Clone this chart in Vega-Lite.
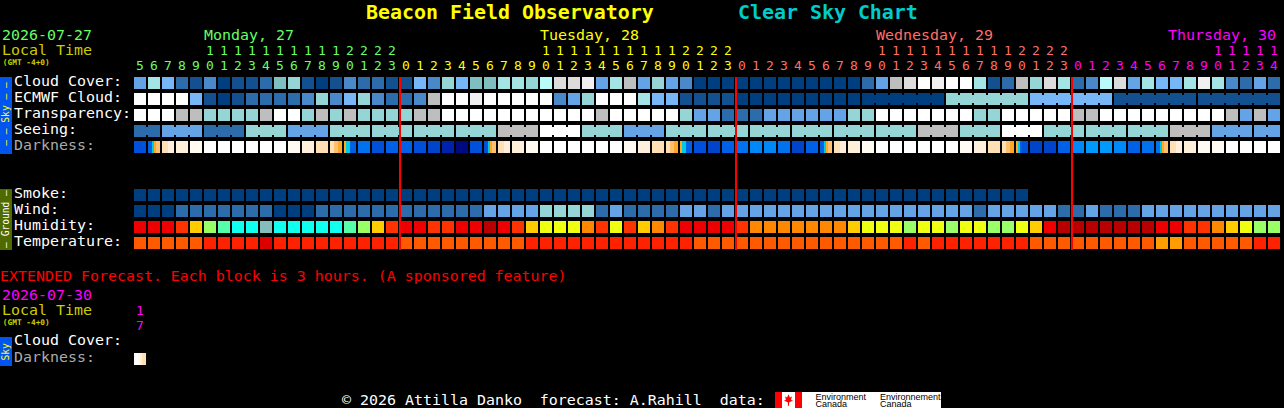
{"$schema":"https://vega.github.io/schema/vega-lite/v6.json","width":1284,"height":408,"padding":0,"autosize":{"type":"none"},"background":"#000000","config":{"view":{"stroke":null}},
"datasets":{
"cells":[
{"col":0,"row":0,"lv":"b4"},{"col":1,"row":0,"lv":"t1"},{"col":2,"row":0,"lv":"b5"},{"col":3,"row":0,"lv":"b2"},{"col":4,"row":0,"lv":"b1"},{"col":5,"row":0,"lv":"b3"},{"col":6,"row":0,"lv":"b0"},{"col":7,"row":0,"lv":"b1"},{"col":8,"row":0,"lv":"b1"},{"col":9,"row":0,"lv":"b2"},{"col":10,"row":0,"lv":"tD"},{"col":11,"row":0,"lv":"t0"},{"col":12,"row":0,"lv":"b1"},{"col":13,"row":0,"lv":"b0"},{"col":14,"row":0,"lv":"b1"},{"col":15,"row":0,"lv":"b3"},{"col":16,"row":0,"lv":"b2"},{"col":17,"row":0,"lv":"b2"},{"col":18,"row":0,"lv":"b1"},{"col":19,"row":0,"lv":"b1"},{"col":20,"row":0,"lv":"b5"},{"col":21,"row":0,"lv":"b3"},{"col":22,"row":0,"lv":"t0"},{"col":23,"row":0,"lv":"b5"},{"col":24,"row":0,"lv":"tD"},{"col":25,"row":0,"lv":"tD"},{"col":26,"row":0,"lv":"t1"},{"col":27,"row":0,"lv":"t1"},{"col":28,"row":0,"lv":"t0"},{"col":29,"row":0,"lv":"t2"},{"col":30,"row":0,"lv":"g1"},{"col":31,"row":0,"lv":"g1"},{"col":32,"row":0,"lv":"g2"},{"col":33,"row":0,"lv":"b4"},{"col":34,"row":0,"lv":"t1"},{"col":35,"row":0,"lv":"g0"},{"col":36,"row":0,"lv":"b4"},{"col":37,"row":0,"lv":"t0"},{"col":38,"row":0,"lv":"b4"},{"col":39,"row":0,"lv":"b3"},{"col":40,"row":0,"lv":"b0"},{"col":41,"row":0,"lv":"b0"},{"col":42,"row":0,"lv":"b0"},{"col":43,"row":0,"lv":"b0"},{"col":44,"row":0,"lv":"b0"},{"col":45,"row":0,"lv":"b0"},{"col":46,"row":0,"lv":"b0"},{"col":47,"row":0,"lv":"b0"},{"col":48,"row":0,"lv":"b0"},{"col":49,"row":0,"lv":"b0"},{"col":50,"row":0,"lv":"b0"},{"col":51,"row":0,"lv":"b0"},{"col":52,"row":0,"lv":"b2"},{"col":53,"row":0,"lv":"b4"},{"col":54,"row":0,"lv":"g0"},{"col":55,"row":0,"lv":"g1"},{"col":56,"row":0,"lv":"w"},{"col":57,"row":0,"lv":"g2"},{"col":58,"row":0,"lv":"w"},{"col":59,"row":0,"lv":"w"},{"col":60,"row":0,"lv":"t1"},{"col":61,"row":0,"lv":"b1"},{"col":62,"row":0,"lv":"b2"},{"col":63,"row":0,"lv":"g0"},{"col":64,"row":0,"lv":"t0"},{"col":65,"row":0,"lv":"g1"},{"col":66,"row":0,"lv":"t1"},{"col":67,"row":0,"lv":"b2"},{"col":68,"row":0,"lv":"b3"},{"col":69,"row":0,"lv":"t2"},{"col":70,"row":0,"lv":"g1"},{"col":71,"row":0,"lv":"b4"},{"col":72,"row":0,"lv":"t1"},{"col":73,"row":0,"lv":"b5"},{"col":74,"row":0,"lv":"b5"},{"col":75,"row":0,"lv":"t1"},{"col":76,"row":0,"lv":"g2"},{"col":77,"row":0,"lv":"t1"},{"col":78,"row":0,"lv":"b3"},{"col":79,"row":0,"lv":"b2"},{"col":80,"row":0,"lv":"b4"},{"col":81,"row":0,"lv":"b2"},
{"col":0,"row":1,"lv":"w"},{"col":1,"row":1,"lv":"w"},{"col":2,"row":1,"lv":"w"},{"col":3,"row":1,"lv":"w"},{"col":4,"row":1,"lv":"b5"},{"col":5,"row":1,"lv":"b1"},{"col":6,"row":1,"lv":"b0"},{"col":7,"row":1,"lv":"b1"},{"col":8,"row":1,"lv":"b2"},{"col":9,"row":1,"lv":"b2"},{"col":10,"row":1,"lv":"b2"},{"col":11,"row":1,"lv":"b2"},{"col":12,"row":1,"lv":"b3"},{"col":13,"row":1,"lv":"t0"},{"col":14,"row":1,"lv":"b3"},{"col":15,"row":1,"lv":"b5"},{"col":16,"row":1,"lv":"t0"},{"col":17,"row":1,"lv":"b3"},{"col":18,"row":1,"lv":"b2"},{"col":19,"row":1,"lv":"b2"},{"col":20,"row":1,"lv":"b3"},{"col":21,"row":1,"lv":"g0"},{"col":22,"row":1,"lv":"w"},{"col":23,"row":1,"lv":"w"},{"col":24,"row":1,"lv":"g2"},{"col":25,"row":1,"lv":"w"},{"col":26,"row":1,"lv":"w"},{"col":27,"row":1,"lv":"w"},{"col":28,"row":1,"lv":"w"},{"col":29,"row":1,"lv":"w"},{"col":30,"row":1,"lv":"b3"},{"col":31,"row":1,"lv":"b4"},{"col":32,"row":1,"lv":"t0"},{"col":33,"row":1,"lv":"w"},{"col":34,"row":1,"lv":"w"},{"col":35,"row":1,"lv":"w"},{"col":36,"row":1,"lv":"t1"},{"col":37,"row":1,"lv":"b5"},{"col":38,"row":1,"lv":"b5"},{"col":39,"row":1,"lv":"b1"},{"col":40,"row":1,"lv":"b1"},{"col":41,"row":1,"lv":"b1"},{"col":42,"row":1,"lv":"b1"},{"col":43,"row":1,"lv":"b0"},{"col":44,"row":1,"lv":"b0"},{"col":45,"row":1,"lv":"b0"},{"col":46,"row":1,"lv":"b0"},{"col":47,"row":1,"lv":"b0"},{"col":48,"row":1,"lv":"b0"},{"col":49,"row":1,"lv":"b0"},{"col":50,"row":1,"lv":"b0"},{"col":51,"row":1,"lv":"b0"},{"col":52,"row":1,"lv":"b0"},{"col":53,"row":1,"lv":"b0"},{"col":54,"row":1,"lv":"b0"},{"col":55,"row":1,"lv":"b0"},{"col":56,"row":1,"lv":"b0"},{"col":57,"row":1,"lv":"b0"},{"col":58,"row":1,"lv":"t0"},{"col":59,"row":1,"lv":"t0"},{"col":60,"row":1,"lv":"t0"},{"col":61,"row":1,"lv":"t0"},{"col":62,"row":1,"lv":"t0"},{"col":63,"row":1,"lv":"t0"},{"col":64,"row":1,"lv":"b5"},{"col":65,"row":1,"lv":"b5"},{"col":66,"row":1,"lv":"b5"},{"col":67,"row":1,"lv":"b5"},{"col":68,"row":1,"lv":"b5"},{"col":69,"row":1,"lv":"b5"},{"col":70,"row":1,"lv":"b1"},{"col":71,"row":1,"lv":"b1"},{"col":72,"row":1,"lv":"b1"},{"col":73,"row":1,"lv":"b1"},{"col":74,"row":1,"lv":"b1"},{"col":75,"row":1,"lv":"b1"},{"col":76,"row":1,"lv":"b1"},{"col":77,"row":1,"lv":"b1"},{"col":78,"row":1,"lv":"b1"},{"col":79,"row":1,"lv":"b1"},{"col":80,"row":1,"lv":"b1"},{"col":81,"row":1,"lv":"b1"},
{"col":0,"row":2,"lv":"w"},{"col":1,"row":2,"lv":"w"},{"col":2,"row":2,"lv":"w"},{"col":3,"row":2,"lv":"g0"},{"col":4,"row":2,"lv":"g0"},{"col":5,"row":2,"lv":"t0"},{"col":6,"row":2,"lv":"t0"},{"col":7,"row":2,"lv":"t0"},{"col":8,"row":2,"lv":"t0"},{"col":9,"row":2,"lv":"g0"},{"col":10,"row":2,"lv":"w"},{"col":11,"row":2,"lv":"w"},{"col":12,"row":2,"lv":"t0"},{"col":13,"row":2,"lv":"g0"},{"col":14,"row":2,"lv":"t0"},{"col":15,"row":2,"lv":"g0"},{"col":16,"row":2,"lv":"t0"},{"col":17,"row":2,"lv":"t0"},{"col":18,"row":2,"lv":"t0"},{"col":19,"row":2,"lv":"t0"},{"col":20,"row":2,"lv":"g0"},{"col":21,"row":2,"lv":"g0"},{"col":22,"row":2,"lv":"w"},{"col":23,"row":2,"lv":"w"},{"col":24,"row":2,"lv":"w"},{"col":25,"row":2,"lv":"w"},{"col":26,"row":2,"lv":"w"},{"col":27,"row":2,"lv":"w"},{"col":28,"row":2,"lv":"w"},{"col":29,"row":2,"lv":"w"},{"col":30,"row":2,"lv":"w"},{"col":31,"row":2,"lv":"w"},{"col":32,"row":2,"lv":"w"},{"col":33,"row":2,"lv":"g0"},{"col":34,"row":2,"lv":"w"},{"col":35,"row":2,"lv":"w"},{"col":36,"row":2,"lv":"w"},{"col":37,"row":2,"lv":"w"},{"col":38,"row":2,"lv":"w"},{"col":39,"row":2,"lv":"t0"},{"col":40,"row":2,"lv":"b4"},{"col":41,"row":2,"lv":"b4"},{"col":42,"row":2,"lv":"b2"},{"col":43,"row":2,"lv":"b2"},{"col":44,"row":2,"lv":"b2"},{"col":45,"row":2,"lv":"b4"},{"col":46,"row":2,"lv":"b4"},{"col":47,"row":2,"lv":"b4"},{"col":48,"row":2,"lv":"b4"},{"col":49,"row":2,"lv":"b4"},{"col":50,"row":2,"lv":"b4"},{"col":51,"row":2,"lv":"t0"},{"col":52,"row":2,"lv":"t0"},{"col":53,"row":2,"lv":"w"},{"col":54,"row":2,"lv":"w"},{"col":55,"row":2,"lv":"w"},{"col":56,"row":2,"lv":"w"},{"col":57,"row":2,"lv":"w"},{"col":58,"row":2,"lv":"w"},{"col":59,"row":2,"lv":"w"},{"col":60,"row":2,"lv":"t0"},{"col":61,"row":2,"lv":"t0"},{"col":62,"row":2,"lv":"w"},{"col":63,"row":2,"lv":"w"},{"col":64,"row":2,"lv":"w"},{"col":65,"row":2,"lv":"w"},{"col":66,"row":2,"lv":"w"},{"col":67,"row":2,"lv":"g0"},{"col":68,"row":2,"lv":"g0"},{"col":69,"row":2,"lv":"w"},{"col":70,"row":2,"lv":"w"},{"col":71,"row":2,"lv":"w"},{"col":72,"row":2,"lv":"w"},{"col":73,"row":2,"lv":"w"},{"col":74,"row":2,"lv":"w"},{"col":75,"row":2,"lv":"w"},{"col":76,"row":2,"lv":"w"},{"col":77,"row":2,"lv":"w"},{"col":78,"row":2,"lv":"g0"},{"col":79,"row":2,"lv":"b4"},{"col":80,"row":2,"lv":"g0"},{"col":81,"row":2,"lv":"b4"},
{"col":0,"row":3,"lv":"b2"},{"col":1,"row":3,"lv":"b2"},{"col":2,"row":3,"lv":"b4"},{"col":3,"row":3,"lv":"b4"},{"col":4,"row":3,"lv":"b4"},{"col":5,"row":3,"lv":"b2"},{"col":6,"row":3,"lv":"b2"},{"col":7,"row":3,"lv":"b2"},{"col":8,"row":3,"lv":"t0"},{"col":9,"row":3,"lv":"t0"},{"col":10,"row":3,"lv":"t0"},{"col":11,"row":3,"lv":"b4"},{"col":12,"row":3,"lv":"b4"},{"col":13,"row":3,"lv":"b4"},{"col":14,"row":3,"lv":"t0"},{"col":15,"row":3,"lv":"t0"},{"col":16,"row":3,"lv":"t0"},{"col":17,"row":3,"lv":"t0"},{"col":18,"row":3,"lv":"t0"},{"col":19,"row":3,"lv":"t0"},{"col":20,"row":3,"lv":"t0"},{"col":21,"row":3,"lv":"t0"},{"col":22,"row":3,"lv":"t0"},{"col":23,"row":3,"lv":"t0"},{"col":24,"row":3,"lv":"t0"},{"col":25,"row":3,"lv":"t0"},{"col":26,"row":3,"lv":"g0"},{"col":27,"row":3,"lv":"g0"},{"col":28,"row":3,"lv":"g0"},{"col":29,"row":3,"lv":"w"},{"col":30,"row":3,"lv":"w"},{"col":31,"row":3,"lv":"w"},{"col":32,"row":3,"lv":"t0"},{"col":33,"row":3,"lv":"t0"},{"col":34,"row":3,"lv":"t0"},{"col":35,"row":3,"lv":"b4"},{"col":36,"row":3,"lv":"b4"},{"col":37,"row":3,"lv":"b4"},{"col":38,"row":3,"lv":"t0"},{"col":39,"row":3,"lv":"t0"},{"col":40,"row":3,"lv":"t0"},{"col":41,"row":3,"lv":"t0"},{"col":42,"row":3,"lv":"t0"},{"col":43,"row":3,"lv":"t0"},{"col":44,"row":3,"lv":"t0"},{"col":45,"row":3,"lv":"t0"},{"col":46,"row":3,"lv":"t0"},{"col":47,"row":3,"lv":"t0"},{"col":48,"row":3,"lv":"t0"},{"col":49,"row":3,"lv":"t0"},{"col":50,"row":3,"lv":"t0"},{"col":51,"row":3,"lv":"t0"},{"col":52,"row":3,"lv":"t0"},{"col":53,"row":3,"lv":"t0"},{"col":54,"row":3,"lv":"t0"},{"col":55,"row":3,"lv":"t0"},{"col":56,"row":3,"lv":"g0"},{"col":57,"row":3,"lv":"g0"},{"col":58,"row":3,"lv":"g0"},{"col":59,"row":3,"lv":"t0"},{"col":60,"row":3,"lv":"t0"},{"col":61,"row":3,"lv":"t0"},{"col":62,"row":3,"lv":"w"},{"col":63,"row":3,"lv":"w"},{"col":64,"row":3,"lv":"w"},{"col":65,"row":3,"lv":"t0"},{"col":66,"row":3,"lv":"t0"},{"col":67,"row":3,"lv":"t0"},{"col":68,"row":3,"lv":"t0"},{"col":69,"row":3,"lv":"t0"},{"col":70,"row":3,"lv":"t0"},{"col":71,"row":3,"lv":"t0"},{"col":72,"row":3,"lv":"t0"},{"col":73,"row":3,"lv":"t0"},{"col":74,"row":3,"lv":"g0"},{"col":75,"row":3,"lv":"g0"},{"col":76,"row":3,"lv":"g0"},{"col":77,"row":3,"lv":"b4"},{"col":78,"row":3,"lv":"b4"},{"col":79,"row":3,"lv":"b4"},{"col":80,"row":3,"lv":"b4"},{"col":81,"row":3,"lv":"b4"},
{"col":0,"row":4,"lv":"n3"},{"col":3,"row":4,"lv":"o4"},{"col":4,"row":4,"lv":"o5"},{"col":5,"row":4,"lv":"w"},{"col":6,"row":4,"lv":"w"},{"col":7,"row":4,"lv":"w"},{"col":8,"row":4,"lv":"w"},{"col":9,"row":4,"lv":"w"},{"col":10,"row":4,"lv":"w"},{"col":11,"row":4,"lv":"o5"},{"col":12,"row":4,"lv":"o4"},{"col":13,"row":4,"lv":"o3"},{"col":16,"row":4,"lv":"n5"},{"col":17,"row":4,"lv":"n3"},{"col":18,"row":4,"lv":"n4"},{"col":19,"row":4,"lv":"n4"},{"col":20,"row":4,"lv":"n3"},{"col":21,"row":4,"lv":"n2"},{"col":22,"row":4,"lv":"n1"},{"col":23,"row":4,"lv":"n0"},{"col":24,"row":4,"lv":"n3"},{"col":27,"row":4,"lv":"o4"},{"col":28,"row":4,"lv":"o5"},{"col":29,"row":4,"lv":"w"},{"col":30,"row":4,"lv":"w"},{"col":31,"row":4,"lv":"w"},{"col":32,"row":4,"lv":"w"},{"col":33,"row":4,"lv":"w"},{"col":34,"row":4,"lv":"w"},{"col":35,"row":4,"lv":"o5"},{"col":36,"row":4,"lv":"o4"},{"col":37,"row":4,"lv":"o3"},{"col":40,"row":4,"lv":"n3"},{"col":41,"row":4,"lv":"n2"},{"col":42,"row":4,"lv":"n4"},{"col":43,"row":4,"lv":"n5"},{"col":44,"row":4,"lv":"n6"},{"col":45,"row":4,"lv":"n6"},{"col":46,"row":4,"lv":"n5"},{"col":47,"row":4,"lv":"n2"},{"col":48,"row":4,"lv":"n4"},{"col":51,"row":4,"lv":"o4"},{"col":52,"row":4,"lv":"o5"},{"col":53,"row":4,"lv":"w"},{"col":54,"row":4,"lv":"w"},{"col":55,"row":4,"lv":"w"},{"col":56,"row":4,"lv":"w"},{"col":57,"row":4,"lv":"w"},{"col":58,"row":4,"lv":"w"},{"col":59,"row":4,"lv":"o5"},{"col":60,"row":4,"lv":"o4"},{"col":61,"row":4,"lv":"o3"},{"col":64,"row":4,"lv":"n2"},{"col":65,"row":4,"lv":"n2"},{"col":66,"row":4,"lv":"n4"},{"col":67,"row":4,"lv":"n6"},{"col":68,"row":4,"lv":"n7"},{"col":69,"row":4,"lv":"n7"},{"col":70,"row":4,"lv":"n6"},{"col":71,"row":4,"lv":"n4"},{"col":72,"row":4,"lv":"n5"},{"col":75,"row":4,"lv":"o4"},{"col":76,"row":4,"lv":"o5"},{"col":77,"row":4,"lv":"o5"},{"col":78,"row":4,"lv":"w"},{"col":79,"row":4,"lv":"w"},{"col":80,"row":4,"lv":"w"},{"col":81,"row":4,"lv":"w"},
{"col":0,"row":7,"lv":"b0"},{"col":1,"row":7,"lv":"b0"},{"col":2,"row":7,"lv":"b0"},{"col":3,"row":7,"lv":"b0"},{"col":4,"row":7,"lv":"b0"},{"col":5,"row":7,"lv":"b0"},{"col":6,"row":7,"lv":"b0"},{"col":7,"row":7,"lv":"b0"},{"col":8,"row":7,"lv":"b0"},{"col":9,"row":7,"lv":"b0"},{"col":10,"row":7,"lv":"b0"},{"col":11,"row":7,"lv":"b0"},{"col":12,"row":7,"lv":"b0"},{"col":13,"row":7,"lv":"b0"},{"col":14,"row":7,"lv":"b0"},{"col":15,"row":7,"lv":"b0"},{"col":16,"row":7,"lv":"b0"},{"col":17,"row":7,"lv":"b0"},{"col":18,"row":7,"lv":"b0"},{"col":19,"row":7,"lv":"b0"},{"col":20,"row":7,"lv":"b0"},{"col":21,"row":7,"lv":"b0"},{"col":22,"row":7,"lv":"b0"},{"col":23,"row":7,"lv":"b0"},{"col":24,"row":7,"lv":"b0"},{"col":25,"row":7,"lv":"b0"},{"col":26,"row":7,"lv":"b0"},{"col":27,"row":7,"lv":"b0"},{"col":28,"row":7,"lv":"b0"},{"col":29,"row":7,"lv":"b0"},{"col":30,"row":7,"lv":"b0"},{"col":31,"row":7,"lv":"b0"},{"col":32,"row":7,"lv":"b0"},{"col":33,"row":7,"lv":"b0"},{"col":34,"row":7,"lv":"b0"},{"col":35,"row":7,"lv":"b0"},{"col":36,"row":7,"lv":"b0"},{"col":37,"row":7,"lv":"b0"},{"col":38,"row":7,"lv":"b0"},{"col":39,"row":7,"lv":"b0"},{"col":40,"row":7,"lv":"b0"},{"col":41,"row":7,"lv":"b0"},{"col":42,"row":7,"lv":"b0"},{"col":43,"row":7,"lv":"b0"},{"col":44,"row":7,"lv":"b0"},{"col":45,"row":7,"lv":"b0"},{"col":46,"row":7,"lv":"b0"},{"col":47,"row":7,"lv":"b0"},{"col":48,"row":7,"lv":"b0"},{"col":49,"row":7,"lv":"b0"},{"col":50,"row":7,"lv":"b0"},{"col":51,"row":7,"lv":"b0"},{"col":52,"row":7,"lv":"b0"},{"col":53,"row":7,"lv":"b0"},{"col":54,"row":7,"lv":"b0"},{"col":55,"row":7,"lv":"b0"},{"col":56,"row":7,"lv":"b0"},{"col":57,"row":7,"lv":"b0"},{"col":58,"row":7,"lv":"b0"},{"col":59,"row":7,"lv":"b0"},{"col":60,"row":7,"lv":"b0"},{"col":61,"row":7,"lv":"b0"},{"col":62,"row":7,"lv":"b0"},{"col":63,"row":7,"lv":"b0"},
{"col":0,"row":8,"lv":"b0"},{"col":1,"row":8,"lv":"b0"},{"col":2,"row":8,"lv":"b0"},{"col":3,"row":8,"lv":"b2"},{"col":4,"row":8,"lv":"b2"},{"col":5,"row":8,"lv":"b2"},{"col":6,"row":8,"lv":"b2"},{"col":7,"row":8,"lv":"b2"},{"col":8,"row":8,"lv":"b2"},{"col":9,"row":8,"lv":"b2"},{"col":10,"row":8,"lv":"b0"},{"col":11,"row":8,"lv":"b0"},{"col":12,"row":8,"lv":"b0"},{"col":13,"row":8,"lv":"b2"},{"col":14,"row":8,"lv":"b2"},{"col":15,"row":8,"lv":"b2"},{"col":16,"row":8,"lv":"b2"},{"col":17,"row":8,"lv":"b2"},{"col":18,"row":8,"lv":"b2"},{"col":19,"row":8,"lv":"b2"},{"col":20,"row":8,"lv":"b2"},{"col":21,"row":8,"lv":"b2"},{"col":22,"row":8,"lv":"b2"},{"col":23,"row":8,"lv":"b2"},{"col":24,"row":8,"lv":"b2"},{"col":25,"row":8,"lv":"b4"},{"col":26,"row":8,"lv":"b4"},{"col":27,"row":8,"lv":"b4"},{"col":28,"row":8,"lv":"b4"},{"col":29,"row":8,"lv":"t0"},{"col":30,"row":8,"lv":"t0"},{"col":31,"row":8,"lv":"t0"},{"col":32,"row":8,"lv":"t0"},{"col":33,"row":8,"lv":"b2"},{"col":34,"row":8,"lv":"b4"},{"col":35,"row":8,"lv":"b2"},{"col":36,"row":8,"lv":"b2"},{"col":37,"row":8,"lv":"b2"},{"col":38,"row":8,"lv":"b2"},{"col":39,"row":8,"lv":"b4"},{"col":40,"row":8,"lv":"b4"},{"col":41,"row":8,"lv":"b2"},{"col":42,"row":8,"lv":"b4"},{"col":43,"row":8,"lv":"b4"},{"col":44,"row":8,"lv":"b4"},{"col":45,"row":8,"lv":"b4"},{"col":46,"row":8,"lv":"b4"},{"col":47,"row":8,"lv":"b4"},{"col":48,"row":8,"lv":"b4"},{"col":49,"row":8,"lv":"b4"},{"col":50,"row":8,"lv":"b4"},{"col":51,"row":8,"lv":"b4"},{"col":52,"row":8,"lv":"b4"},{"col":53,"row":8,"lv":"b4"},{"col":54,"row":8,"lv":"b4"},{"col":55,"row":8,"lv":"b4"},{"col":56,"row":8,"lv":"b4"},{"col":57,"row":8,"lv":"b4"},{"col":58,"row":8,"lv":"b4"},{"col":59,"row":8,"lv":"b4"},{"col":60,"row":8,"lv":"b2"},{"col":61,"row":8,"lv":"b4"},{"col":62,"row":8,"lv":"b4"},{"col":63,"row":8,"lv":"b4"},{"col":64,"row":8,"lv":"b4"},{"col":65,"row":8,"lv":"b4"},{"col":66,"row":8,"lv":"b2"},{"col":67,"row":8,"lv":"b2"},{"col":68,"row":8,"lv":"b4"},{"col":69,"row":8,"lv":"b2"},{"col":70,"row":8,"lv":"b2"},{"col":71,"row":8,"lv":"b2"},{"col":72,"row":8,"lv":"b4"},{"col":73,"row":8,"lv":"b4"},{"col":74,"row":8,"lv":"b4"},{"col":75,"row":8,"lv":"b4"},{"col":76,"row":8,"lv":"b4"},{"col":77,"row":8,"lv":"b4"},{"col":78,"row":8,"lv":"b4"},{"col":79,"row":8,"lv":"b4"},{"col":80,"row":8,"lv":"b4"},{"col":81,"row":8,"lv":"b4"},
{"col":0,"row":9,"lv":"hR"},{"col":1,"row":9,"lv":"hR"},{"col":2,"row":9,"lv":"hR"},{"col":3,"row":9,"lv":"hO"},{"col":4,"row":9,"lv":"hY"},{"col":5,"row":9,"lv":"hG"},{"col":6,"row":9,"lv":"hM"},{"col":7,"row":9,"lv":"hC"},{"col":8,"row":9,"lv":"hC"},{"col":9,"row":9,"lv":"hT"},{"col":10,"row":9,"lv":"hC"},{"col":11,"row":9,"lv":"hC"},{"col":12,"row":9,"lv":"hC"},{"col":13,"row":9,"lv":"hC"},{"col":14,"row":9,"lv":"hC"},{"col":15,"row":9,"lv":"hM"},{"col":16,"row":9,"lv":"hG"},{"col":17,"row":9,"lv":"hY"},{"col":18,"row":9,"lv":"hO"},{"col":19,"row":9,"lv":"hR"},{"col":20,"row":9,"lv":"hR"},{"col":21,"row":9,"lv":"hO"},{"col":22,"row":9,"lv":"hO"},{"col":23,"row":9,"lv":"hR"},{"col":24,"row":9,"lv":"hR"},{"col":25,"row":9,"lv":"hD"},{"col":26,"row":9,"lv":"hR"},{"col":27,"row":9,"lv":"hO"},{"col":28,"row":9,"lv":"hY"},{"col":29,"row":9,"lv":"hL"},{"col":30,"row":9,"lv":"hL"},{"col":31,"row":9,"lv":"hL"},{"col":32,"row":9,"lv":"hA"},{"col":33,"row":9,"lv":"hO"},{"col":34,"row":9,"lv":"hL"},{"col":35,"row":9,"lv":"hO"},{"col":36,"row":9,"lv":"hY"},{"col":37,"row":9,"lv":"hA"},{"col":38,"row":9,"lv":"hO"},{"col":39,"row":9,"lv":"hR"},{"col":40,"row":9,"lv":"hR"},{"col":41,"row":9,"lv":"hR"},{"col":42,"row":9,"lv":"hR"},{"col":43,"row":9,"lv":"hO"},{"col":44,"row":9,"lv":"hA"},{"col":45,"row":9,"lv":"hA"},{"col":46,"row":9,"lv":"hA"},{"col":47,"row":9,"lv":"hA"},{"col":48,"row":9,"lv":"hA"},{"col":49,"row":9,"lv":"hA"},{"col":50,"row":9,"lv":"hA"},{"col":51,"row":9,"lv":"hY"},{"col":52,"row":9,"lv":"hL"},{"col":53,"row":9,"lv":"hL"},{"col":54,"row":9,"lv":"hL"},{"col":55,"row":9,"lv":"hG"},{"col":56,"row":9,"lv":"hL"},{"col":57,"row":9,"lv":"hL"},{"col":58,"row":9,"lv":"hG"},{"col":59,"row":9,"lv":"hL"},{"col":60,"row":9,"lv":"hL"},{"col":61,"row":9,"lv":"hG"},{"col":62,"row":9,"lv":"hG"},{"col":63,"row":9,"lv":"hL"},{"col":64,"row":9,"lv":"hY"},{"col":65,"row":9,"lv":"hR"},{"col":66,"row":9,"lv":"hD"},{"col":67,"row":9,"lv":"hD"},{"col":68,"row":9,"lv":"hD"},{"col":69,"row":9,"lv":"hD"},{"col":70,"row":9,"lv":"hD"},{"col":71,"row":9,"lv":"hD"},{"col":72,"row":9,"lv":"hD"},{"col":73,"row":9,"lv":"hR"},{"col":74,"row":9,"lv":"hR"},{"col":75,"row":9,"lv":"hO"},{"col":76,"row":9,"lv":"hO"},{"col":77,"row":9,"lv":"hA"},{"col":78,"row":9,"lv":"hY"},{"col":79,"row":9,"lv":"hL"},{"col":80,"row":9,"lv":"hG"},{"col":81,"row":9,"lv":"hG"},
{"col":0,"row":10,"lv":"kO"},{"col":1,"row":10,"lv":"kO"},{"col":2,"row":10,"lv":"kO"},{"col":3,"row":10,"lv":"kO"},{"col":4,"row":10,"lv":"kO"},{"col":5,"row":10,"lv":"kR"},{"col":6,"row":10,"lv":"kR"},{"col":7,"row":10,"lv":"kR"},{"col":8,"row":10,"lv":"kR"},{"col":9,"row":10,"lv":"kD"},{"col":10,"row":10,"lv":"kR"},{"col":11,"row":10,"lv":"kR"},{"col":12,"row":10,"lv":"kR"},{"col":13,"row":10,"lv":"kR"},{"col":14,"row":10,"lv":"kR"},{"col":15,"row":10,"lv":"kR"},{"col":16,"row":10,"lv":"kR"},{"col":17,"row":10,"lv":"kR"},{"col":18,"row":10,"lv":"kR"},{"col":19,"row":10,"lv":"kO"},{"col":20,"row":10,"lv":"kO"},{"col":21,"row":10,"lv":"kO"},{"col":22,"row":10,"lv":"kO"},{"col":23,"row":10,"lv":"kO"},{"col":24,"row":10,"lv":"kO"},{"col":25,"row":10,"lv":"kO"},{"col":26,"row":10,"lv":"kO"},{"col":27,"row":10,"lv":"kO"},{"col":28,"row":10,"lv":"kR"},{"col":29,"row":10,"lv":"kR"},{"col":30,"row":10,"lv":"kR"},{"col":31,"row":10,"lv":"kR"},{"col":32,"row":10,"lv":"kR"},{"col":33,"row":10,"lv":"kR"},{"col":34,"row":10,"lv":"kR"},{"col":35,"row":10,"lv":"kR"},{"col":36,"row":10,"lv":"kR"},{"col":37,"row":10,"lv":"kR"},{"col":38,"row":10,"lv":"kR"},{"col":39,"row":10,"lv":"kR"},{"col":40,"row":10,"lv":"kO"},{"col":41,"row":10,"lv":"kO"},{"col":42,"row":10,"lv":"kO"},{"col":43,"row":10,"lv":"kO"},{"col":44,"row":10,"lv":"kO"},{"col":45,"row":10,"lv":"kO"},{"col":46,"row":10,"lv":"kO"},{"col":47,"row":10,"lv":"kO"},{"col":48,"row":10,"lv":"kO"},{"col":49,"row":10,"lv":"kO"},{"col":50,"row":10,"lv":"kO"},{"col":51,"row":10,"lv":"kO"},{"col":52,"row":10,"lv":"kO"},{"col":53,"row":10,"lv":"kO"},{"col":54,"row":10,"lv":"kO"},{"col":55,"row":10,"lv":"kR"},{"col":56,"row":10,"lv":"kO"},{"col":57,"row":10,"lv":"kR"},{"col":58,"row":10,"lv":"kR"},{"col":59,"row":10,"lv":"kR"},{"col":60,"row":10,"lv":"kR"},{"col":61,"row":10,"lv":"kR"},{"col":62,"row":10,"lv":"kR"},{"col":63,"row":10,"lv":"kR"},{"col":64,"row":10,"lv":"kO"},{"col":65,"row":10,"lv":"kO"},{"col":66,"row":10,"lv":"kO"},{"col":67,"row":10,"lv":"kO"},{"col":68,"row":10,"lv":"kO"},{"col":69,"row":10,"lv":"kO"},{"col":70,"row":10,"lv":"kO"},{"col":71,"row":10,"lv":"kO"},{"col":72,"row":10,"lv":"kO"},{"col":73,"row":10,"lv":"kA"},{"col":74,"row":10,"lv":"kA"},{"col":75,"row":10,"lv":"kO"},{"col":76,"row":10,"lv":"kO"},{"col":77,"row":10,"lv":"kO"},{"col":78,"row":10,"lv":"kO"},{"col":79,"row":10,"lv":"kO"},{"col":80,"row":10,"lv":"kR"},{"col":81,"row":10,"lv":"kR"}
],
"joins":[
{"col":0,"end":1,"row":3,"lv":"b2"},{"col":2,"end":4,"row":3,"lv":"b4"},{"col":5,"end":7,"row":3,"lv":"b2"},{"col":8,"end":10,"row":3,"lv":"t0"},{"col":11,"end":13,"row":3,"lv":"b4"},{"col":14,"end":16,"row":3,"lv":"t0"},{"col":17,"end":19,"row":3,"lv":"t0"},{"col":20,"end":22,"row":3,"lv":"t0"},{"col":23,"end":25,"row":3,"lv":"t0"},{"col":26,"end":28,"row":3,"lv":"g0"},{"col":29,"end":31,"row":3,"lv":"w"},{"col":32,"end":34,"row":3,"lv":"t0"},{"col":35,"end":37,"row":3,"lv":"b4"},{"col":38,"end":40,"row":3,"lv":"t0"},{"col":41,"end":43,"row":3,"lv":"t0"},{"col":44,"end":46,"row":3,"lv":"t0"},{"col":47,"end":49,"row":3,"lv":"t0"},{"col":50,"end":52,"row":3,"lv":"t0"},{"col":53,"end":55,"row":3,"lv":"t0"},{"col":56,"end":58,"row":3,"lv":"g0"},{"col":59,"end":61,"row":3,"lv":"t0"},{"col":62,"end":64,"row":3,"lv":"w"},{"col":65,"end":67,"row":3,"lv":"t0"},{"col":68,"end":70,"row":3,"lv":"t0"},{"col":71,"end":73,"row":3,"lv":"t0"},{"col":74,"end":76,"row":3,"lv":"g0"},{"col":77,"end":79,"row":3,"lv":"b4"},{"col":80,"end":81,"row":3,"lv":"b4"},
{"col":52,"end":57,"row":1,"lv":"b0"},{"col":58,"end":63,"row":1,"lv":"t0"},{"col":64,"end":69,"row":1,"lv":"b5"},{"col":70,"end":75,"row":1,"lv":"b1"},{"col":76,"end":81,"row":1,"lv":"b1"}
],
"strips":[
{"col":0.643,"row":4,"lv":"n4"},{"col":0.786,"row":4,"lv":"n4"},{"col":0.929,"row":4,"lv":"c1"},{"col":1.071,"row":4,"lv":"o1"},{"col":1.214,"row":4,"lv":"o2"},{"col":1.357,"row":4,"lv":"o2"},
{"col":1.643,"row":4,"lv":"o3"},{"col":1.786,"row":4,"lv":"o3"},{"col":1.929,"row":4,"lv":"o3"},{"col":2.071,"row":4,"lv":"o4"},{"col":2.214,"row":4,"lv":"o4"},{"col":2.357,"row":4,"lv":"o4"},
{"col":13.643,"row":4,"lv":"o3"},{"col":13.786,"row":4,"lv":"o3"},{"col":13.929,"row":4,"lv":"o2"},{"col":14.071,"row":4,"lv":"o2"},{"col":14.214,"row":4,"lv":"o1"},{"col":14.357,"row":4,"lv":"o1"},
{"col":14.643,"row":4,"lv":"o1"},{"col":14.786,"row":4,"lv":"c1"},{"col":14.929,"row":4,"lv":"c1"},{"col":15.071,"row":4,"lv":"n4"},{"col":15.214,"row":4,"lv":"n4"},{"col":15.357,"row":4,"lv":"n4"},
{"col":24.643,"row":4,"lv":"n3"},{"col":24.786,"row":4,"lv":"n3"},{"col":24.929,"row":4,"lv":"c1"},{"col":25.071,"row":4,"lv":"o1"},{"col":25.214,"row":4,"lv":"o2"},{"col":25.357,"row":4,"lv":"o2"},
{"col":25.643,"row":4,"lv":"o3"},{"col":25.786,"row":4,"lv":"o3"},{"col":25.929,"row":4,"lv":"o3"},{"col":26.071,"row":4,"lv":"o4"},{"col":26.214,"row":4,"lv":"o4"},{"col":26.357,"row":4,"lv":"o4"},
{"col":37.643,"row":4,"lv":"o3"},{"col":37.786,"row":4,"lv":"o3"},{"col":37.929,"row":4,"lv":"o2"},{"col":38.071,"row":4,"lv":"o2"},{"col":38.214,"row":4,"lv":"o1"},{"col":38.357,"row":4,"lv":"o1"},
{"col":38.643,"row":4,"lv":"o1"},{"col":38.786,"row":4,"lv":"c1"},{"col":38.929,"row":4,"lv":"c1"},{"col":39.071,"row":4,"lv":"n4"},{"col":39.214,"row":4,"lv":"n4"},{"col":39.357,"row":4,"lv":"n4"},
{"col":48.643,"row":4,"lv":"n4"},{"col":48.786,"row":4,"lv":"n4"},{"col":48.929,"row":4,"lv":"c1"},{"col":49.071,"row":4,"lv":"o1"},{"col":49.214,"row":4,"lv":"o2"},{"col":49.357,"row":4,"lv":"o2"},
{"col":49.643,"row":4,"lv":"o3"},{"col":49.786,"row":4,"lv":"o3"},{"col":49.929,"row":4,"lv":"o3"},{"col":50.071,"row":4,"lv":"o4"},{"col":50.214,"row":4,"lv":"o4"},{"col":50.357,"row":4,"lv":"o4"},
{"col":61.643,"row":4,"lv":"o3"},{"col":61.786,"row":4,"lv":"o3"},{"col":61.929,"row":4,"lv":"o2"},{"col":62.071,"row":4,"lv":"o2"},{"col":62.214,"row":4,"lv":"o1"},{"col":62.357,"row":4,"lv":"o1"},
{"col":62.643,"row":4,"lv":"o1"},{"col":62.786,"row":4,"lv":"c1"},{"col":62.929,"row":4,"lv":"n4"},{"col":63.071,"row":4,"lv":"n3"},{"col":63.214,"row":4,"lv":"n3"},{"col":63.357,"row":4,"lv":"n3"},
{"col":72.643,"row":4,"lv":"n5"},{"col":72.786,"row":4,"lv":"n5"},{"col":72.929,"row":4,"lv":"c1"},{"col":73.071,"row":4,"lv":"o1"},{"col":73.214,"row":4,"lv":"o2"},{"col":73.357,"row":4,"lv":"o2"},
{"col":73.643,"row":4,"lv":"o3"},{"col":73.786,"row":4,"lv":"o3"},{"col":73.929,"row":4,"lv":"o3"},{"col":74.071,"row":4,"lv":"o4"},{"col":74.214,"row":4,"lv":"o4"},{"col":74.357,"row":4,"lv":"o4"},
{"col":-0.357,"row":17.25,"lv":"w"},{"col":-0.214,"row":17.25,"lv":"w"},{"col":-0.071,"row":17.25,"lv":"o5"},{"col":0.071,"row":17.25,"lv":"o4"},{"col":0.214,"row":17.25,"lv":"o3"},{"col":0.357,"row":17.25,"lv":"o3"}
],
"digits":[
{"col":0,"row":-1.0625,"label":"5","lv":"green"},{"col":1,"row":-1.0625,"label":"6","lv":"green"},{"col":2,"row":-1.0625,"label":"7","lv":"green"},{"col":3,"row":-1.0625,"label":"8","lv":"green"},{"col":4,"row":-1.0625,"label":"9","lv":"green"},{"col":5,"row":-1.0625,"label":"0","lv":"green"},{"col":6,"row":-1.0625,"label":"1","lv":"green"},{"col":7,"row":-1.0625,"label":"2","lv":"green"},{"col":8,"row":-1.0625,"label":"3","lv":"green"},{"col":9,"row":-1.0625,"label":"4","lv":"green"},{"col":10,"row":-1.0625,"label":"5","lv":"green"},{"col":11,"row":-1.0625,"label":"6","lv":"green"},{"col":12,"row":-1.0625,"label":"7","lv":"green"},{"col":13,"row":-1.0625,"label":"8","lv":"green"},{"col":14,"row":-1.0625,"label":"9","lv":"green"},{"col":15,"row":-1.0625,"label":"0","lv":"green"},{"col":16,"row":-1.0625,"label":"1","lv":"green"},{"col":17,"row":-1.0625,"label":"2","lv":"green"},{"col":18,"row":-1.0625,"label":"3","lv":"green"},
{"col":19,"row":-1.0625,"label":"0","lv":"yellow"},{"col":20,"row":-1.0625,"label":"1","lv":"yellow"},{"col":21,"row":-1.0625,"label":"2","lv":"yellow"},{"col":22,"row":-1.0625,"label":"3","lv":"yellow"},{"col":23,"row":-1.0625,"label":"4","lv":"yellow"},{"col":24,"row":-1.0625,"label":"5","lv":"yellow"},{"col":25,"row":-1.0625,"label":"6","lv":"yellow"},{"col":26,"row":-1.0625,"label":"7","lv":"yellow"},{"col":27,"row":-1.0625,"label":"8","lv":"yellow"},{"col":28,"row":-1.0625,"label":"9","lv":"yellow"},{"col":29,"row":-1.0625,"label":"0","lv":"yellow"},{"col":30,"row":-1.0625,"label":"1","lv":"yellow"},{"col":31,"row":-1.0625,"label":"2","lv":"yellow"},{"col":32,"row":-1.0625,"label":"3","lv":"yellow"},{"col":33,"row":-1.0625,"label":"4","lv":"yellow"},{"col":34,"row":-1.0625,"label":"5","lv":"yellow"},{"col":35,"row":-1.0625,"label":"6","lv":"yellow"},{"col":36,"row":-1.0625,"label":"7","lv":"yellow"},{"col":37,"row":-1.0625,"label":"8","lv":"yellow"},{"col":38,"row":-1.0625,"label":"9","lv":"yellow"},{"col":39,"row":-1.0625,"label":"0","lv":"yellow"},{"col":40,"row":-1.0625,"label":"1","lv":"yellow"},{"col":41,"row":-1.0625,"label":"2","lv":"yellow"},{"col":42,"row":-1.0625,"label":"3","lv":"yellow"},
{"col":43,"row":-1.0625,"label":"0","lv":"salmon"},{"col":44,"row":-1.0625,"label":"1","lv":"salmon"},{"col":45,"row":-1.0625,"label":"2","lv":"salmon"},{"col":46,"row":-1.0625,"label":"3","lv":"salmon"},{"col":47,"row":-1.0625,"label":"4","lv":"salmon"},{"col":48,"row":-1.0625,"label":"5","lv":"salmon"},{"col":49,"row":-1.0625,"label":"6","lv":"salmon"},{"col":50,"row":-1.0625,"label":"7","lv":"salmon"},{"col":51,"row":-1.0625,"label":"8","lv":"salmon"},{"col":52,"row":-1.0625,"label":"9","lv":"salmon"},{"col":53,"row":-1.0625,"label":"0","lv":"salmon"},{"col":54,"row":-1.0625,"label":"1","lv":"salmon"},{"col":55,"row":-1.0625,"label":"2","lv":"salmon"},{"col":56,"row":-1.0625,"label":"3","lv":"salmon"},{"col":57,"row":-1.0625,"label":"4","lv":"salmon"},{"col":58,"row":-1.0625,"label":"5","lv":"salmon"},{"col":59,"row":-1.0625,"label":"6","lv":"salmon"},{"col":60,"row":-1.0625,"label":"7","lv":"salmon"},{"col":61,"row":-1.0625,"label":"8","lv":"salmon"},{"col":62,"row":-1.0625,"label":"9","lv":"salmon"},{"col":63,"row":-1.0625,"label":"0","lv":"salmon"},{"col":64,"row":-1.0625,"label":"1","lv":"salmon"},{"col":65,"row":-1.0625,"label":"2","lv":"salmon"},{"col":66,"row":-1.0625,"label":"3","lv":"salmon"},
{"col":67,"row":-1.0625,"label":"0","lv":"magenta"},{"col":68,"row":-1.0625,"label":"1","lv":"magenta"},{"col":69,"row":-1.0625,"label":"2","lv":"magenta"},{"col":70,"row":-1.0625,"label":"3","lv":"magenta"},{"col":71,"row":-1.0625,"label":"4","lv":"magenta"},{"col":72,"row":-1.0625,"label":"5","lv":"magenta"},{"col":73,"row":-1.0625,"label":"6","lv":"magenta"},{"col":74,"row":-1.0625,"label":"7","lv":"magenta"},{"col":75,"row":-1.0625,"label":"8","lv":"magenta"},{"col":76,"row":-1.0625,"label":"9","lv":"magenta"},{"col":77,"row":-1.0625,"label":"0","lv":"magenta"},{"col":78,"row":-1.0625,"label":"1","lv":"magenta"},{"col":79,"row":-1.0625,"label":"2","lv":"magenta"},{"col":80,"row":-1.0625,"label":"3","lv":"magenta"},{"col":81,"row":-1.0625,"label":"4","lv":"magenta"},
{"col":5,"row":-2,"label":"1","lv":"green"},{"col":6,"row":-2,"label":"1","lv":"green"},{"col":7,"row":-2,"label":"1","lv":"green"},{"col":8,"row":-2,"label":"1","lv":"green"},{"col":9,"row":-2,"label":"1","lv":"green"},{"col":10,"row":-2,"label":"1","lv":"green"},{"col":11,"row":-2,"label":"1","lv":"green"},{"col":12,"row":-2,"label":"1","lv":"green"},{"col":13,"row":-2,"label":"1","lv":"green"},{"col":14,"row":-2,"label":"1","lv":"green"},{"col":15,"row":-2,"label":"2","lv":"green"},{"col":16,"row":-2,"label":"2","lv":"green"},{"col":17,"row":-2,"label":"2","lv":"green"},{"col":18,"row":-2,"label":"2","lv":"green"},
{"col":29,"row":-2,"label":"1","lv":"yellow"},{"col":30,"row":-2,"label":"1","lv":"yellow"},{"col":31,"row":-2,"label":"1","lv":"yellow"},{"col":32,"row":-2,"label":"1","lv":"yellow"},{"col":33,"row":-2,"label":"1","lv":"yellow"},{"col":34,"row":-2,"label":"1","lv":"yellow"},{"col":35,"row":-2,"label":"1","lv":"yellow"},{"col":36,"row":-2,"label":"1","lv":"yellow"},{"col":37,"row":-2,"label":"1","lv":"yellow"},{"col":38,"row":-2,"label":"1","lv":"yellow"},{"col":39,"row":-2,"label":"2","lv":"yellow"},{"col":40,"row":-2,"label":"2","lv":"yellow"},{"col":41,"row":-2,"label":"2","lv":"yellow"},{"col":42,"row":-2,"label":"2","lv":"yellow"},
{"col":53,"row":-2,"label":"1","lv":"salmon"},{"col":54,"row":-2,"label":"1","lv":"salmon"},{"col":55,"row":-2,"label":"1","lv":"salmon"},{"col":56,"row":-2,"label":"1","lv":"salmon"},{"col":57,"row":-2,"label":"1","lv":"salmon"},{"col":58,"row":-2,"label":"1","lv":"salmon"},{"col":59,"row":-2,"label":"1","lv":"salmon"},{"col":60,"row":-2,"label":"1","lv":"salmon"},{"col":61,"row":-2,"label":"1","lv":"salmon"},{"col":62,"row":-2,"label":"1","lv":"salmon"},{"col":63,"row":-2,"label":"2","lv":"salmon"},{"col":64,"row":-2,"label":"2","lv":"salmon"},{"col":65,"row":-2,"label":"2","lv":"salmon"},{"col":66,"row":-2,"label":"2","lv":"salmon"},
{"col":77,"row":-2,"label":"1","lv":"magenta"},{"col":78,"row":-2,"label":"1","lv":"magenta"},{"col":79,"row":-2,"label":"1","lv":"magenta"},{"col":80,"row":-2,"label":"1","lv":"magenta"},{"col":81,"row":-2,"label":"1","lv":"magenta"},
{"col":0,"row":14.25,"label":"1","lv":"magenta"},{"col":0,"row":15.1875,"label":"7","lv":"magenta"}
],
"texts":[
{"col":-9.857,"row":-2.94,"label":"2026-07-27","lv":"green"},{"col":-9.857,"row":-2,"label":"Local Time","lv":"olive"},
{"col":4.571,"row":-2.94,"label":"Monday, 27","lv":"green"},{"col":28.571,"row":-2.94,"label":"Tuesday, 28","lv":"yellow"},{"col":52.571,"row":-2.94,"label":"Wednesday, 29","lv":"salmon"},{"col":73.43,"row":-2.94,"label":"Thursday, 30","lv":"magenta"},
{"col":-9,"row":-0.08,"label":"Cloud Cover:","lv":"w"},{"col":-9,"row":0.92,"label":"ECMWF Cloud:","lv":"w"},{"col":-9,"row":1.92,"label":"Transparency:","lv":"w"},{"col":-9,"row":2.92,"label":"Seeing:","lv":"w"},{"col":-9,"row":3.92,"label":"Darkness:","lv":"gray"},
{"col":-9,"row":6.92,"label":"Smoke:","lv":"w"},{"col":-9,"row":7.92,"label":"Wind:","lv":"w"},{"col":-9,"row":8.92,"label":"Humidity:","lv":"w"},{"col":-9,"row":9.92,"label":"Temperature:","lv":"w"},
{"col":-10,"row":12.125,"label":"EXTENDED Forecast. Each block is 3 hours. (A sponsored feature)","lv":"red"},
{"col":-9.857,"row":13.3125,"label":"2026-07-30","lv":"magenta"},{"col":-9.857,"row":14.25,"label":"Local Time","lv":"olive"},
{"col":-9,"row":16.125,"label":"Cloud Cover:","lv":"w"},{"col":-9,"row":17.1875,"label":"Darkness:","lv":"gray"},
{"col":14.43,"row":19.875,"label":"© 2026 Attilla Danko\u00a0\u00a0forecast: A.Rahill\u00a0\u00a0data:","lv":"w"}
],
"gmt":[{"col":-9.8,"row":-1.25,"label":"(GMT -4+0)","lv":"olive"},{"col":-9.8,"row":15,"label":"(GMT -4+0)","lv":"olive"}],
"titles":[{"col":16.14,"row":-4.375,"label":"Beacon Field Observatory","lv":"yellow"},{"col":42.71,"row":-4.375,"label":"Clear Sky Chart","lv":"teal"}],
"blocks":[
{"col":-10,"end":-9.143,"row":-0.375,"rowEnd":4.4375,"lv":"skyband"},{"col":-10,"end":-9.143,"row":6.625,"rowEnd":10.4375,"lv":"groundband"},{"col":-10,"end":-9.143,"row":15.875,"rowEnd":17.6875,"lv":"skyband"},
{"col":45.357,"end":57.214,"row":19.3125,"rowEnd":20.3125,"lv":"w"},{"col":45.357,"end":45.857,"row":19.3125,"rowEnd":20.3125,"lv":"red"},{"col":46.786,"end":47.286,"row":19.3125,"rowEnd":20.3125,"lv":"red"}
],
"bandtext":[{"col":-9.571,"row":1.9375,"label":"– – Sky – –","lv":"yellow"},{"col":-9.571,"row":8.5,"label":"– Ground –","lv":"w"},{"col":-9.571,"row":16.8,"label":"Sky","lv":"yellow"}],
"midnights":[{"col":18.57,"row":-0.375,"rowEnd":10.4375,"lv":"red"},{"col":42.57,"row":-0.375,"rowEnd":10.4375,"lv":"red"},{"col":66.57,"row":-0.375,"rowEnd":10.4375,"lv":"red"}],
"leaf":[{"col":46.32,"row":19.81,"lv":"red"}],
"logo":[{"col":48.25,"row":19.6,"label":"Environment","lv":"black"},{"col":48.25,"row":20.05,"label":"Canada","lv":"black"},{"col":52.86,"row":19.6,"label":"Environnement","lv":"black"},{"col":52.86,"row":20.05,"label":"Canada","lv":"black"}]
},
"encoding":{
"x":{"field":"col","type":"quantitative","axis":null,"scale":{"domain":[-10,81.7142857],"range":[0,1284],"nice":false,"zero":false}},
"y":{"field":"row","type":"quantitative","axis":null,"scale":{"domain":[-5.1875,20.3125],"range":[0,408],"nice":false,"zero":false}},
"color":{"field":"lv","type":"nominal","legend":null,"scale":{
"domain":["b0","b1","b2","b3","b4","b5","t0","t1","t2","tD","g0","g1","g2","w","hD","hR","hO","hA","hY","hL","hG","hM","hC","hT","kD","kR","kO","kA","n0","n1","n2","n3","n4","n5","n6","n7","c1","o1","o2","o3","o4","o5","green","yellow","salmon","magenta","olive","gray","red","teal","black","skyband","groundband"],
"range":["#003f7f","#13508f","#2c6cab","#4a89c9","#63a3e6","#77b7f7","#95d5d5","#a5e4e4","#bbfafa","#7fbfbf","#bebebe","#dcdcdc","#f0f0f0","#ffffff","#b80000","#ee0000","#ff3300","#ff8800","#ffcc00","#eeff11","#99ff66","#55ffaa","#11ffee","#85bdbd","#dd0000","#ff2200","#ff5a00","#ff9c00","#000a80","#0022aa","#0044cc","#0050dc","#0060e8","#0072f0","#0088f8","#0099ff","#00ccdd","#ffa826","#ffc070","#ffdfb4","#fff0dc","#fffaf2","#66ff66","#ffff00","#ff6f66","#ff00ff","#cccc00","#aaaaaa","#ff0000","#00cccc","#000000","#0055ee","#4f6b00"]}}
},
"layer":[
{"data":{"name":"joins"},"mark":{"type":"rect","height":8},"encoding":{"x2":{"field":"end"}}},
{"data":{"name":"cells"},"mark":{"type":"rect","width":12,"height":12}},
{"data":{"name":"strips"},"mark":{"type":"rect","width":2,"height":12}},
{"data":{"name":"blocks"},"mark":{"type":"rect"},"encoding":{"x2":{"field":"end"},"y2":{"field":"rowEnd"}}},
{"data":{"name":"leaf"},"mark":{"type":"point","filled":true,"opacity":1,"size":130,"shape":"M0,-1L0.25,-0.45L0.6,-0.6L0.45,0L0.8,0.1L0.1,0.45L0.1,1L-0.1,1L-0.1,0.45L-0.8,0.1L-0.45,0L-0.6,-0.6L-0.25,-0.45Z"}},
{"data":{"name":"midnights"},"mark":{"type":"rule","strokeWidth":2},"encoding":{"y2":{"field":"rowEnd"}}},
{"data":{"name":"digits"},"mark":{"type":"text","font":"DejaVu Sans Mono","fontSize":13,"align":"center","baseline":"middle"},"encoding":{"text":{"field":"label"}}},
{"data":{"name":"texts"},"mark":{"type":"text","font":"DejaVu Sans Mono","fontSize":14.95,"align":"left","baseline":"middle"},"encoding":{"text":{"field":"label"}}},
{"data":{"name":"gmt"},"mark":{"type":"text","font":"DejaVu Sans Mono","fontWeight":"bold","fontSize":7.8,"align":"left","baseline":"middle"},"encoding":{"text":{"field":"label"}}},
{"data":{"name":"titles"},"mark":{"type":"text","font":"DejaVu Sans Mono","fontWeight":"bold","fontSize":19.93,"align":"left","baseline":"middle"},"encoding":{"text":{"field":"label"}}},
{"data":{"name":"bandtext"},"mark":{"type":"text","font":"DejaVu Sans Mono","fontSize":9.6,"align":"center","baseline":"middle","angle":270},"encoding":{"text":{"field":"label"}}},
{"data":{"name":"logo"},"mark":{"type":"text","font":"Liberation Sans","fontSize":9,"align":"left","baseline":"middle"},"encoding":{"text":{"field":"label"}}}
]}
